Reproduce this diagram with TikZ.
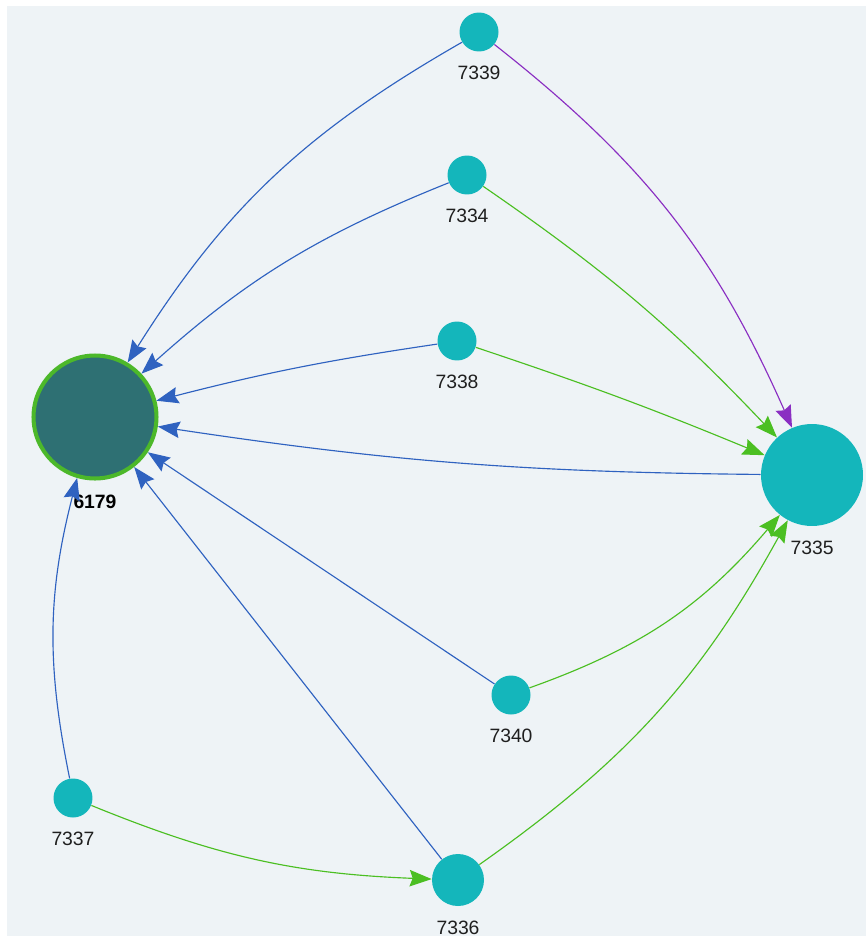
\documentclass[tikz,border=0pt]{standalone}
\usepackage{fontspec}
\setmainfont{Liberation Sans}
\usetikzlibrary{arrows.meta}
\definecolor{bgcol}{HTML}{EEF3F6}
\definecolor{tealnode}{HTML}{14B6BB}
\definecolor{hubfill}{HTML}{2E7073}
\definecolor{hubring}{HTML}{4CB82A}
\definecolor{bluelink}{HTML}{2F62C0}
\definecolor{greenlink}{HTML}{4BBF22}
\definecolor{purplelink}{HTML}{8A2EC2}

\begin{document}
\begin{tikzpicture}[x=0.02cm,y=-0.02cm,>={Stealth[length=0.44cm,width=0.33cm,inset=0.06cm]},
	item/.style={circle,fill=tealnode,inner sep=0pt,minimum size=#1},
	item/.default=0.78cm,
	every label/.style={font=\fontsize{11}{13}\selectfont,text=black!88,inner sep=0pt},
	label distance=0.28cm,
	link/.style={->,line width=0.65pt,draw=bluelink},
	glink/.style={link,draw=greenlink},]
	% background
	\useasboundingbox (0,0) rectangle (866,936);
	\fill[bgcol] (7,6) rectangle (866,936);

	% create the nodes
	\node[item=2.46cm,fill=hubfill,draw=hubring,line width=2.3pt,label={[font=\fontsize{11}{13}\selectfont\bfseries,text=black]below:6179}] (n6179) at (95,417) {};
	\node[item=2.04cm,label=below:7335] (n7335) at (812,475) {};
	\node[item,label=below:7339] (n7339) at (479,32) {};
	\node[item,label=below:7334] (n7334) at (467,175) {};
	\node[item,label=below:7338] (n7338) at (457,341) {};
	\node[item,label=below:7340] (n7340) at (511,695) {};
	\node[item,label=below:7337] (n7337) at (73,798) {};
	\node[item=1.04cm,label=below:7336] (n7336) at (458,880) {};

	% connect the nodes
	\draw[link] (n7339) to[bend right=14] (n6179);
	\draw[link] (n7334) to[bend right=10] (n6179);
	\draw[link] (n7338) to[bend right=3] (n6179);
	\draw[link] (n7335) to[bend left=4] (n6179);
	\draw[link] (n7340) to (n6179);
	\draw[link] (n7336) to (n6179);
	\draw[link] (n7337) to[bend left=13] (n6179);
	\draw[link,draw=purplelink] (n7339) to[bend left=14] (n7335);
	\draw[glink] (n7334) to[bend left=6] (n7335);
	\draw[glink] (n7338) to[bend left=2] (n7335);
	\draw[glink] (n7340) to[bend right=15] (n7335);
	\draw[glink] (n7336) to[bend right=13] (n7335);
	\draw[glink] (n7337) to[bend right=10] (n7336);
\end{tikzpicture}
\end{document}
